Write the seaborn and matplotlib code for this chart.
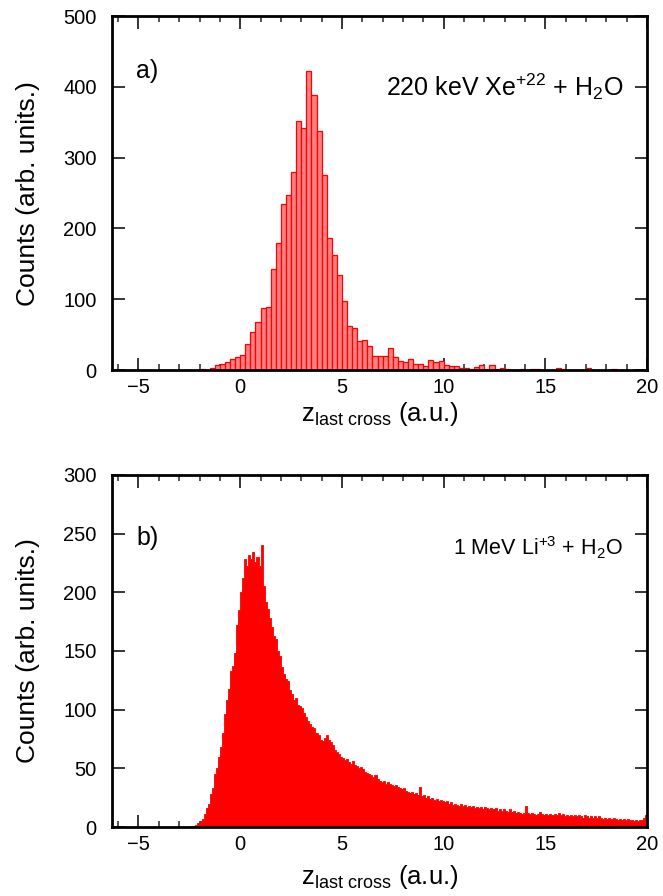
#IMPORT-------
import numpy as np
import pandas as pd
import matplotlib
matplotlib.use("Agg")
import matplotlib.pyplot as plt
from matplotlib.ticker import MultipleLocator
import seaborn as sns

#DATA---------
# panel a) 220 keV Xe+22 + H2O, bins of 0.25 starting at -2
top_start, top_width = -2.0, 0.25
top_counts = [1, 0, 3, 7, 9, 11, 16, 18,
              21, 37, 54, 68, 88, 89, 143, 179,
              235, 248, 280, 352, 342, 422, 388, 338,
              276, 186, 163, 134, 98, 62, 59, 41,
              42, 34, 20, 20, 20, 31, 19, 13,
              11, 16, 8, 9, 6, 14, 12, 13,
              7, 6, 6, 3, 3, 1, 4, 7,
              1, 7, 1, 3, 1, 0, 0, 1,
              0, 1, 1, 0, 0, 0, 3, 1,
              0, 0, 0, 0, 3, 0, 0, 0,
              0, 1, 0, 0, 0, 0, 0, 0]

# panel b) 1 MeV Li+3 + H2O, bins of 0.1 starting at -2.5
bot_start, bot_width = -2.5, 0.1
bot_counts = [0, 1, 1, 2, 3,
              5, 7, 11, 16, 20, 28, 33, 45, 50, 60,              # -2.0
              68, 80, 96, 108, 118, 133, 137, 148, 172, 185,     # -1.0
              200, 212, 228, 222, 232, 228, 234, 226, 230, 222,  # 0
              240, 205, 192, 186, 178, 170, 163, 160, 150, 146,  # 1
              136, 130, 126, 124, 117, 113, 108, 110, 104, 103,  # 2
              101, 97, 94, 90, 88, 85, 84, 80, 78, 74,           # 3
              73, 76, 78, 74, 72, 70, 66, 64, 62, 60,            # 4
              59, 57, 58, 55, 54, 56, 53, 52, 50, 51,            # 5
              49, 47, 46, 45, 44, 43, 44, 41, 39, 38,            # 6
              39, 37, 38, 37, 36, 35, 36, 34, 33, 32,            # 7
              33, 31, 30, 29, 30, 28, 29, 27, 34, 26,            # 8
              27, 25, 26, 24, 25, 23, 24, 22, 23, 22,            # 9
              21, 22, 20, 21, 19, 20, 19, 18, 20, 18,            # 10
              19, 17, 18, 17, 18, 16, 17, 16, 17, 15,            # 11
              17, 16, 15, 16, 15, 16, 14, 15, 14, 15,            # 12
              14, 13, 15, 13, 14, 12, 13, 12, 11, 12,            # 13
              18, 12, 11, 12, 11, 10, 11, 13, 11, 10,            # 14
              11, 10, 11, 10, 11, 10, 12, 10, 11, 9,             # 15
              10, 9, 10, 9, 10, 9, 10, 9, 8, 10,                 # 16
              9, 8, 9, 8, 9, 8, 9, 8, 7, 8,                      # 17
              7, 8, 7, 8, 7, 6, 7, 6, 7, 6,                      # 18
              7, 6, 6, 5, 6, 5, 6, 6, 8, 10]                     # 19

top_edges = top_start + top_width * np.arange(len(top_counts) + 1)
bot_edges = bot_start + bot_width * np.arange(len(bot_counts) + 1)
df_top = pd.DataFrame({'z': top_edges[:-1] + top_width / 2, 'w': top_counts})
df_bot = pd.DataFrame({'z': bot_edges[:-1] + bot_width / 2, 'w': bot_counts})

xticks = [-5, 0, 5, 10, 15, 20]
top_yticks = [0, 100, 200, 300, 400, 500]
bot_yticks = [0, 50, 100, 150, 200, 250, 300]

#STYLE---------
sns.set_style("ticks")
plt.rcParams['font.family'] = ['Liberation Sans', 'DejaVu Sans']
plt.rcParams['mathtext.fontset'] = 'custom'
plt.rcParams['mathtext.rm'] = 'Liberation Sans'
plt.rcParams['mathtext.it'] = 'Liberation Sans'
plt.rcParams['text.color'] = 'black'
plt.rcParams['axes.labelcolor'] = 'black'

fig = plt.figure(figsize=(6.63, 8.96), dpi=100)
ax1 = fig.add_axes([0.169, 0.587, 0.807, 0.395])
ax2 = fig.add_axes([0.169, 0.077, 0.807, 0.393])

#PLOTS---------
sns.histplot(data=df_top, x='z', weights='w', bins=list(top_edges), ax=ax1,
             color='#ff8080', edgecolor='#ff0000', linewidth=0.9, alpha=1)
sns.histplot(data=df_bot, x='z', weights='w', bins=list(bot_edges), ax=ax2,
             element='step', fill=True, color='#ff0000', edgecolor='#ff0000',
             linewidth=0.6, alpha=1)


def style_axis(ax, yticks, xpad):
    ax.set_xlim(-6.3, 20)
    ax.set_ylim(yticks[0], yticks[-1])
    ax.set_xticks(xticks)
    ax.set_yticks(yticks)
    ax.xaxis.set_minor_locator(MultipleLocator(1))
    ax.tick_params(which='major', direction='in', length=9, width=1.1,
                   top=True, right=True, labelsize=14.5, colors='black')
    ax.tick_params(axis='x', which='major', pad=6)
    ax.tick_params(axis='y', which='major', pad=11)
    ax.tick_params(which='minor', direction='in', length=4.5, width=1.1,
                   top=True, right=False, left=False)
    for s in ax.spines.values():
        s.set_linewidth(2)
        s.set_color('black')
    ax.set_ylabel('Counts (arb. units.)', fontsize=19, labelpad=17)
    ax.set_xlabel(r'z$_{\mathrm{last\ cross}}$ (a.u.)', fontsize=18.5, labelpad=xpad)


style_axis(ax1, top_yticks, 2)
style_axis(ax2, bot_yticks, 6)

ax1.text(0.045, 0.825, 'a)', transform=ax1.transAxes, fontsize=18)
ax1.text(0.955, 0.775, r'220 keV Xe$^{+22}$ + H$_2$O', transform=ax1.transAxes,
         fontsize=18, ha='right')
ax2.text(0.045, 0.80, 'b)', transform=ax2.transAxes, fontsize=18)
ax2.text(0.955, 0.77, r'1 MeV Li$^{+3}$ + H$_2$O', transform=ax2.transAxes,
         fontsize=15.5, ha='right')

fig.savefig('out.png', dpi=100)
